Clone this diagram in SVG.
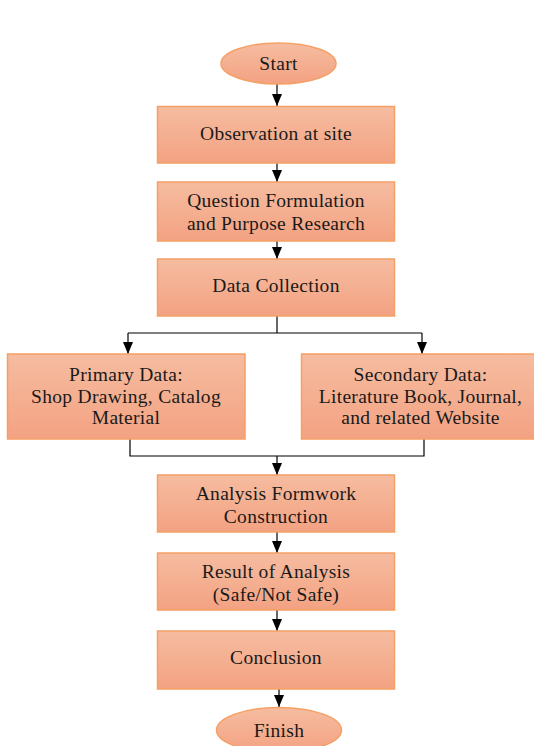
<svg xmlns="http://www.w3.org/2000/svg" width="534" height="746" viewBox="0 0 534 746" font-family="Liberation Serif, Times New Roman, Times, serif">
<style>
.n{fill:url(#g);stroke:#F5A064;stroke-width:1.5}
.t{font-size:19.5px;letter-spacing:0.3px;fill:#1a1a1a;text-anchor:middle}
.c{fill:none;stroke:#000;stroke-width:1.2}
</style>
<defs>
<linearGradient id="g" x1="0" y1="0" x2="0" y2="1">
<stop offset="0" stop-color="#F6BCA0"/>
<stop offset="1" stop-color="#F3A282"/>
</linearGradient>
<marker id="a" markerWidth="12" markerHeight="10" refX="12" refY="5" orient="auto" markerUnits="userSpaceOnUse" viewBox="0 0 12 10">
<path d="M0,0 L12,5 L0,10 Z" fill="#000"/>
</marker>
</defs>
<rect width="534" height="746" fill="#fff"/>
<g id="connectors">
<line class="c" x1="277" y1="84" x2="277" y2="106" marker-end="url(#a)"/>
<line class="c" x1="277" y1="163" x2="277" y2="182" marker-end="url(#a)"/>
<line class="c" x1="277" y1="241" x2="277" y2="259" marker-end="url(#a)"/>
<polyline class="c" points="277,316 277,333"/>
<polyline class="c" points="128,333 422,333"/>
<line class="c" x1="128" y1="333" x2="128" y2="354" marker-end="url(#a)"/>
<line class="c" x1="422" y1="333" x2="422" y2="354" marker-end="url(#a)"/>
<polyline class="c" points="130,439 130,456 424,456 424,439"/>
<line class="c" x1="277" y1="456" x2="277" y2="475" marker-end="url(#a)"/>
<line class="c" x1="277" y1="532" x2="277" y2="553" marker-end="url(#a)"/>
<line class="c" x1="277" y1="610" x2="277" y2="631" marker-end="url(#a)"/>
<line class="c" x1="279" y1="689" x2="279" y2="707" marker-end="url(#a)"/>
</g>
<g id="start">
<ellipse class="n" cx="278.5" cy="63.5" rx="57.5" ry="20.5"/>
<text class="t" x="278.5" y="70">Start</text>
</g>
<g id="observation">
<rect class="n" x="157.5" y="106.5" width="237" height="56.5"/>
<text class="t" x="276" y="140">Observation at site</text>
</g>
<g id="question">
<rect class="n" x="157.5" y="182" width="237" height="59"/>
<text class="t" x="276" y="207">Question Formulation</text>
<text class="t" x="276" y="230">and Purpose Research</text>
</g>
<g id="collection">
<rect class="n" x="157.5" y="259" width="237" height="57"/>
<text class="t" x="276" y="292">Data Collection</text>
</g>
<g id="primary">
<rect class="n" x="7.5" y="354" width="237.5" height="85"/>
<text class="t" x="126" y="381">Primary Data:</text>
<text class="t" x="126" y="403">Shop Drawing, Catalog</text>
<text class="t" x="126" y="424">Material</text>
</g>
<g id="secondary">
<rect class="n" x="301.5" y="354" width="240" height="85"/>
<text class="t" x="420.5" y="381">Secondary Data:</text>
<text class="t" x="420.5" y="403">Literature Book, Journal,</text>
<text class="t" x="420.5" y="424">and related Website</text>
</g>
<g id="analysis">
<rect class="n" x="157.5" y="475" width="237" height="57"/>
<text class="t" x="276" y="500">Analysis Formwork</text>
<text class="t" x="276" y="523">Construction</text>
</g>
<g id="result">
<rect class="n" x="157.5" y="553" width="237" height="57"/>
<text class="t" x="276" y="578">Result of Analysis</text>
<text class="t" x="276" y="601">(Safe/Not Safe)</text>
</g>
<g id="conclusion">
<rect class="n" x="157.5" y="631" width="237" height="58"/>
<text class="t" x="276" y="664">Conclusion</text>
</g>
<g id="finish">
<ellipse class="n" cx="279" cy="730" rx="62.5" ry="22.5"/>
<text class="t" x="279" y="737">Finish</text>
</g>
</svg>
